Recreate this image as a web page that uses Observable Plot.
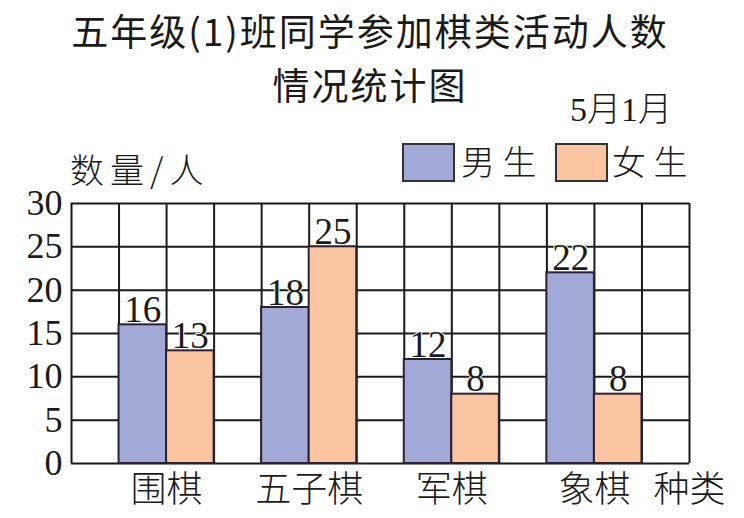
<!DOCTYPE html>
<html><head><meta charset="utf-8">
<script src="https://cdn.jsdelivr.net/npm/d3@7"></script>
<script src="https://cdn.jsdelivr.net/npm/@observablehq/plot@0.6"></script>
<style>
body{margin:0;background:#fff;}
#wrap{position:relative;width:744px;height:518px;overflow:hidden;background:#fff;}
.t{position:absolute;white-space:nowrap;color:#1a1a1a;line-height:1;}
.cjk{font-family:"Noto Sans CJK SC",sans-serif;}
.box{position:absolute;border:2px solid #333;box-sizing:border-box;}
</style></head>
<body><div id="wrap"></div>
<script>
const categories = ["围棋","五子棋","军棋","象棋"];
const boys = [16,18,12,22];
const girls = [13,25,8,8];
const yTicks = [0,5,10,15,20,25,30];
const seriesNames = ["男生","女生"];
const colors = ["#a3a9d6","#fbc5a3"];
const title1 = "五年级(1)班同学参加棋类活动人数";
const title2 = "情况统计图";
const dateText = "5月1月";
const yLabel = "数量/人";
const xLabel = "种类";

const rows = [];
categories.forEach((c,i)=>{
  rows.push({cat:c, series:"男生", value:boys[i], x1:1+3*i, x2:2+3*i});
  rows.push({cat:c, series:"女生", value:girls[i], x1:2+3*i, x2:3+3*i});
});
const nSlots = categories.length*3+1;
const slots = d3.range(nSlots+1);
const cats = categories.map((c,i)=>({cat:c, x:2+3*i}));

const plot = Plot.plot({
  width:744, height:518,
  marginTop:203, marginBottom:55, marginLeft:71, marginRight:55,
  x:{domain:[0,nSlots], axis:null},
  y:{domain:[0,30], ticks:yTicks, tickSize:0, tickPadding:9, label:null},
  color:{domain:seriesNames, range:colors},
  style:{fontFamily:"Liberation Serif, serif", fontSize:"36px", color:"#1a1a1a", background:"#fff"},
  marks:[
    Plot.ruleY(yTicks, {stroke:"#1a1a1a", strokeWidth:2, strokeOpacity:1}),
    Plot.ruleX(slots, {stroke:"#1a1a1a", strokeWidth:2, strokeOpacity:1}),
    Plot.rectY(rows, {x1:"x1", x2:"x2", y1:0, y2:"value", fill:"series", stroke:"#2a2230", strokeWidth:2, inset:0}),
    Plot.text(rows, {x:d=>(d.x1+d.x2)/2, y:"value", text:d=>String(d.value), lineAnchor:"bottom", dy:-3, fontSize:37, fill:"#1a1a1a", stroke:"white", strokeWidth:2}),
    Plot.text(cats, {x:"x", y:0, text:"cat", dy:27, lineAnchor:"middle", fontSize:36, fontFamily:"Noto Sans CJK SC", fontWeight:300, fill:"#1a1a1a"}),
    Plot.text([xLabel], {x:nSlots, y:0, text:d=>d, dy:27, lineAnchor:"middle", fontSize:36, fontFamily:"Noto Sans CJK SC", fontWeight:300, fill:"#1a1a1a"}),
    Plot.axisY({ticks:yTicks, tickSize:0, tickPadding:9, fontSize:36, fontFamily:"Liberation Serif", label:null})
  ]
});
const wrap = document.getElementById("wrap");
plot.style.position="absolute"; plot.style.left="0"; plot.style.top="0";
wrap.appendChild(plot);

function addText(txt, cls, css){
  const d=document.createElement("div"); d.className="t "+cls; d.textContent=txt;
  Object.assign(d.style, css); wrap.appendChild(d); return d;
}
addText(title1,"cjk",{left:"0",width:"740px",textAlign:"center",top:"12px",fontSize:"37px",fontWeight:"400",letterSpacing:"2px"});
addText(title2,"cjk",{left:"0",width:"740px",textAlign:"center",top:"66px",fontSize:"37px",fontWeight:"400",letterSpacing:"2px"});
addText(dateText,"",{left:"570px",top:"93px",fontSize:"34px",fontWeight:"300",fontFamily:"Liberation Serif, 'Noto Sans CJK SC'"});
addText(yLabel,"cjk",{left:"70px",top:"152px",fontSize:"34px",fontWeight:"300",letterSpacing:"6px"});
// legend
const lx=[402,555], tx=[461,612];
seriesNames.forEach((s,i)=>{
  const b=document.createElement("div"); b.className="box";
  Object.assign(b.style,{left:lx[i]+"px",top:"143px",width:"53px",height:"39px",background:colors[i]});
  wrap.appendChild(b);
  addText(s.split("").join(" "),"cjk",{left:tx[i]+"px",top:"144px",fontSize:"34px",fontWeight:"300"});
});
</script></body></html>
